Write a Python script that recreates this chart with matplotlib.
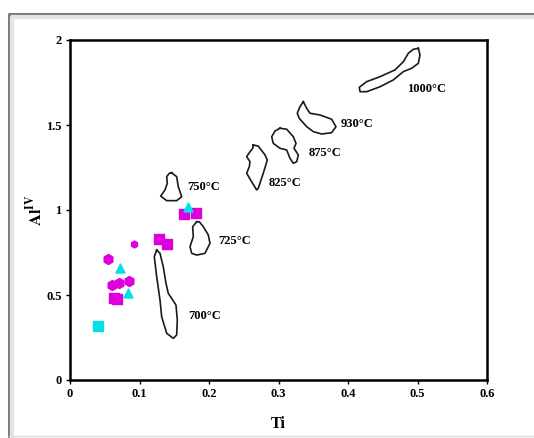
import matplotlib
matplotlib.use("Agg")
import matplotlib.pyplot as plt
from matplotlib.lines import Line2D

plt.rcParams['font.family'] = ['Liberation Serif', 'DejaVu Serif']
plt.rcParams['mathtext.fontset'] = 'stix'

# --- data ---
# magenta squares
sq_mag_ti = [0.064, 0.068, 0.1285, 0.140, 0.164, 0.182]
sq_mag_al = [0.485, 0.478, 0.83, 0.80, 0.975, 0.98]
# magenta hexagons
hex_ti = [0.055, 0.060, 0.071, 0.085]
hex_al = [0.71, 0.559, 0.569, 0.584]
hex_small_ti = [0.0925]
hex_small_al = [0.80]
# cyan triangles / square
tri_ti = [0.072, 0.083, 0.170]
tri_al = [0.657, 0.514, 1.02]
sq_cy_ti = [0.040]
sq_cy_al = [0.32]

# temperature fields (outline vertices, Ti / AlIV)
fields = {
    '700°C': [(0.1247, 0.765), (0.1213, 0.725), (0.1247, 0.608), (0.1295, 0.471),
              (0.1319, 0.372), (0.1391, 0.275), (0.1486, 0.245), (0.1535, 0.265),
              (0.1544, 0.353), (0.1525, 0.441), (0.1414, 0.510), (0.1381, 0.569),
              (0.1342, 0.666), (0.1295, 0.745)],
    '725°C': [(0.1823, 0.931), (0.1765, 0.902), (0.1774, 0.843), (0.1727, 0.784),
              (0.1751, 0.745), (0.1823, 0.735), (0.1942, 0.745), (0.2014, 0.804),
              (0.1990, 0.853), (0.1918, 0.902), (0.1860, 0.931)],
    '750°C': [(0.1463, 1.219), (0.1535, 1.196), (0.1558, 1.137), (0.1607, 1.078),
              (0.1535, 1.055), (0.1391, 1.055), (0.1305, 1.082), (0.1367, 1.118),
              (0.1400, 1.157), (0.1391, 1.196), (0.1429, 1.216)],
    '825°C': [(0.2637, 1.382), (0.2709, 1.376), (0.2806, 1.324), (0.2839, 1.294),
              (0.2781, 1.216), (0.2709, 1.128), (0.2686, 1.118), (0.2614, 1.166),
              (0.2542, 1.216), (0.2580, 1.255), (0.2590, 1.284), (0.2542, 1.314),
              (0.2590, 1.343), (0.2629, 1.363)],
    '875°C': [(0.3022, 1.481), (0.3118, 1.475), (0.3213, 1.431), (0.3252, 1.392),
              (0.3223, 1.363), (0.3285, 1.324), (0.3262, 1.284), (0.3213, 1.275),
              (0.3165, 1.304), (0.3118, 1.353), (0.3022, 1.363), (0.2925, 1.392),
              (0.2902, 1.431), (0.2950, 1.465)],
    '930°C': [(0.3357, 1.637), (0.3406, 1.598), (0.3453, 1.569), (0.3597, 1.559),
              (0.3765, 1.534), (0.3827, 1.490), (0.3765, 1.455), (0.3622, 1.447),
              (0.3501, 1.461), (0.3406, 1.490), (0.3299, 1.539), (0.3270, 1.569),
              (0.3309, 1.608)],
    '1000°C': [(0.5012, 1.951), (0.5036, 1.912), (0.5012, 1.863), (0.4917, 1.834),
               (0.4796, 1.814), (0.4652, 1.765), (0.4460, 1.725), (0.4269, 1.696),
               (0.4173, 1.696), (0.4163, 1.722), (0.4269, 1.755), (0.4460, 1.784),
               (0.4676, 1.824), (0.4796, 1.872), (0.4868, 1.922), (0.4940, 1.945)],
}
label_pos = {
    '700°C': (0.170, 0.376), '725°C': (0.213, 0.818), '750°C': (0.169, 1.137),
    '825°C': (0.286, 1.161), '875°C': (0.343, 1.337), '930°C': (0.390, 1.506),
    '1000°C': (0.485, 1.71),
}

x_ticks = [0, 0.1, 0.2, 0.3, 0.4, 0.5, 0.6]
x_labels = ['0', '0.1', '0.2', '0.3', '0.4', '0.5', '0.6']
y_ticks = [0, 0.5, 1, 1.5, 2]
y_labels = ['0', '0.5', '1', '1.5', '2']

# --- figure ---
fig = plt.figure(figsize=(5.34, 4.38), dpi=100)
ax = fig.add_axes([70 / 534, 1 - 380 / 438, 417 / 534, 340 / 438])

# outer frame (gray shadow border)
for lw, col, off in [(2.2, '#7a7a7a', 0), (3, '#e4e4e4', 3)]:
    x0 = (9 + off) / 534
    y0 = 1 - (14 + off) / 438
    fig.add_artist(Line2D([x0, x0, 1.0], [0.0, y0, y0], transform=fig.transFigure,
                          color=col, lw=lw, zorder=-1))
fig.add_artist(Line2D([9 / 534, 1.0], [2 / 438, 2 / 438], transform=fig.transFigure,
                      color='#dcdcdc', lw=1, zorder=-1))

for name, pts in fields.items():
    xs = [p[0] for p in pts] + [pts[0][0]]
    ys = [p[1] for p in pts] + [pts[0][1]]
    ax.plot(xs, ys, color='#1a1a1a', lw=1.2)
    lx, ly = label_pos[name]
    ax.text(lx, ly, name, fontsize=9, fontweight='bold', va='center', ha='left')

mag = '#dd00dd'
cy = '#00e0e6'
ax.scatter(sq_mag_ti, sq_mag_al, marker='s', s=42, color=mag, zorder=3)
ax.scatter(hex_ti, hex_al, marker='h', s=52, color=mag, zorder=3)
ax.scatter(hex_small_ti, hex_small_al, marker='h', s=25, color=mag, zorder=3)
ax.scatter(tri_ti, tri_al, marker='^', s=42, color=cy, zorder=3)
ax.scatter(sq_cy_ti, sq_cy_al, marker='s', s=42, color=cy, zorder=3)

ax.set_xlim(0, 0.6)
ax.set_ylim(0, 2)
ax.set_xticks(x_ticks)
ax.set_xticklabels(x_labels)
ax.set_yticks(y_ticks)
ax.set_yticklabels(y_labels)
for lab in ax.get_xticklabels() + ax.get_yticklabels():
    lab.set_fontweight('bold')
    lab.set_fontsize(9)
ax.tick_params(direction='out', length=3, width=1, pad=3)
for sp in ax.spines.values():
    sp.set_linewidth(1.8)

ax.set_xlabel('Ti', fontsize=11.5, fontweight='bold', labelpad=11)
ax.set_ylabel(r'$\mathbf{Al^{IV}}$', fontsize=12, va='center')
ax.yaxis.set_label_coords(-0.084, 0.5)

fig.savefig('out.png', dpi=100)
